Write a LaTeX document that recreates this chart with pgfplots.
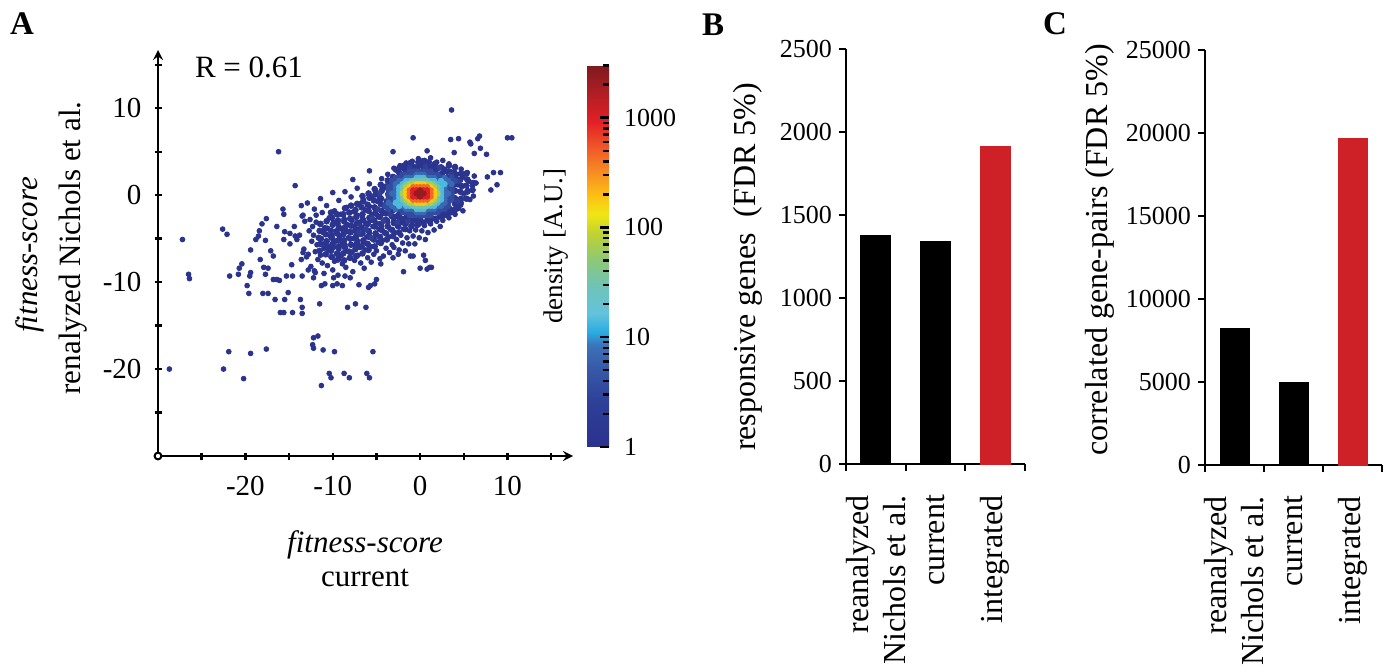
\documentclass[border=0pt]{standalone}
\usepackage{pgfplots}
\pgfplotsset{compat=1.18}
\usepackage{fontspec}
\setmainfont{Liberation Serif}
\usetikzlibrary{arrows.meta}
\definecolor{cRed}{RGB}{205,32,39}

\pgfplotsset{
  dots/.style={scatter, only marks, mark=*, mark size=1.2pt,
    scatter/use mapped color={draw=mapped color, fill=mapped color}},
  core/.style={dots, mark size=1.35pt},
  barpanel/.style={
    scale only axis, anchor=south west,
    xmin=0.5, xmax=3.5, ymin=0,
    axis lines*=left,
    axis line style={line width=1.1pt, -},
    tick style={line width=1.1pt, black},
    tick align=outside,
    major tick length=3.5pt,
    scaled y ticks=false,
    xtick={0.5,1.5,2.5,3.5}, xticklabels={},
    extra x ticks={1,2,3},
    extra x tick labels={{reanalyzed\\Nichols et al.},current,integrated},
    extra x tick style={major tick length=0pt, tick style={draw=none},
      xticklabel style={rotate=90, anchor=east, align=right,
        font=\fontsize{16}{18.5}\selectfont}},
    xticklabel shift=12pt,
    yticklabel style={font=\fontsize{13}{15}\selectfont},
    ybar, bar shift=0pt,
  },
}

\begin{document}
\begin{tikzpicture}
\useasboundingbox (0,0) rectangle (696pt,-334pt);

% ---------------- panel A: scatter with density ----------------
\begin{axis}[
  scale only axis, width=207.5pt, height=203pt,
  at={(79pt,-228pt)}, anchor=south west,
  xmin=-30, xmax=17.5, ymin=-30, ymax=16.7,
  axis lines=left,
  axis line style={line width=1.2pt},
  every inner x axis line/.append style={-{To[length=4pt,width=8pt]}},
  every inner y axis line/.append style={-{To[length=4pt,width=8pt]}},
  xtick={-20,-10,0,10}, xticklabels={-20,-10,0,10},
  ytick={-20,-10,0,10}, yticklabels={-20,-10,0,10},
  minor xtick={-25,-15,-5,5,15}, minor ytick={-25,-15,-5,5,15},
  tick align=center, major tick length=3.5pt, minor tick length=3.5pt,
  tick style={line width=1.2pt, black},
  ticklabel style={font=\fontsize{14.5}{17}\selectfont},
  xticklabel style={yshift=-5pt},
  yticklabel style={xshift=-3pt},
  clip=false,
  colormap={dens}{rgb255(0pt)=(42,49,140); rgb255(42pt)=(46,64,152);
    rgb255(72pt)=(55,90,168); rgb255(93pt)=(60,115,185);
    rgb255(104pt)=(40,170,226); rgb255(122pt)=(100,195,220);
    rgb255(146pt)=(110,195,185); rgb255(170pt)=(140,200,120);
    rgb255(194pt)=(190,210,50); rgb255(212pt)=(240,230,20);
    rgb255(230pt)=(253,190,20); rgb255(251pt)=(246,140,35);
    rgb255(272pt)=(240,90,40); rgb255(296pt)=(228,32,38);
    rgb255(325pt)=(170,30,35); rgb255(348pt)=(125,25,30)},
  point meta min=0, point meta max=3.48,
  colorbar,
  colorbar style={
    at={(parent axis.south east)}, anchor=south west,
    xshift=-1.5pt, yshift=4.5pt, width=11pt, height=191pt,
    ytick={0,1,2,3}, yticklabels={1,10,100,1000},
    minor ytick={0.301,0.477,0.602,0.699,0.778,0.845,0.903,0.954,
      1.301,1.477,1.602,1.699,1.778,1.845,1.903,1.954,
      2.301,2.477,2.602,2.699,2.778,2.845,2.903,2.954,3.301,3.477},
    ytick pos=right, yticklabel pos=right,
    tick align=inside, major tick length=4.5pt, minor tick length=3pt,
    tick style={black, line width=1.2pt},
    axis line style={draw=none},
    yticklabel style={font=\fontsize{13}{15}\selectfont, xshift=4pt},
  },
]
% sparse outliers
\addplot[dots, point meta=0.05] coordinates {
(3.6,9.8) (-0.8,6.6) (10.0,6.6) (10.5,6.6) (6.8,6.8) (6.6,6.5) (5.8,5.9)
(5.7,6.1) (3.5,6.4) (4.4,6.5) (0.8,5.1) (6.9,5.4) (7.6,4.7) (6.2,4.8)
(3.9,4.9) (-3.1,5.0) (-16.2,5.0) (-5.8,2.8) (9.2,2.6) (8.4,2.6) (7.7,2.1)
(8.8,1.2) (8.1,0.6) (6.4,1.4) (6.1,-0.1) (-14.3,1.1) (-7.7,1.8) (4.4,-1.5)
(-27.2,-5.1) (-22.6,-3.9) (-22.1,-4.5) (-26.5,-9.1) (-26.4,-9.6) (-21.8,-9.3)
(-28.7,-20.0) (-22.5,-20.0) (-21.9,-18.0) (-20.2,-21.1) (-19.4,-18.2)
(-17.6,-17.7) (-12.2,-16.4) (-11.7,-16.2) (-12.3,-17.2) (-12.2,-17.6)
(-11.1,-17.8) (-9.8,-18.0) (-5.4,-18.0) (-11.3,-21.9) (-10.4,-20.5)
(-10.2,-21.0) (-8.7,-20.5) (-8.1,-21.0) (-6.1,-20.5) (-5.8,-21.0)
(-16.0,-13.5) (-15.6,-13.5) (-14.6,-13.5) (-13.5,-13.6) (-13.5,-12.9)
(-11.5,-12.5) (-8.3,-12.9) (-7.4,-12.5) (-6.2,-12.9) (-16.6,-12.0)
(-15.5,-12.0) (-15.1,-11.2) (-13.7,-12.0) (-18.0,-11.3) (-17.4,-11.3)
(-19.6,-11.3) (-19.8,-10.4) (-16.8,-9.7) (-16.4,-9.7) (-16.1,-9.8)
(-20.8,-9.1) (-20.7,-8.4) (-20.4,-7.9) (-19.5,-9.3) (-19.4,-8.9)
(-17.9,-8.3) (-17.4,-8.4) (-18.3,-7.4) (-17.7,-9.1) (-19.4,-6.3)
(-17.1,-6.4) (-16.8,-7.0) (-18.8,-5.1) (-18.5,-4.7) (-18.4,-4.1)
(-17.7,-5.2) (-18.1,-3.3) (-17.6,-2.7) (-16.4,-3.6) (-15.7,-1.6)
(-15.6,-2.2) (-15.5,-4.2) (-15.6,-5.1) (-14.9,-4.4) (-14.3,-4.7)
(-14.1,-5.1) (-14.7,-8.0) (-15.3,-9.3) (-14.6,-9.3) (-13.5,-9.3)
(-13.4,-2.3) (-14.4,-3.6) (-14.9,-5.6) (-13.6,-7.4) (-13.4,-6.6)
(-12.8,-8.6) (-12.2,-9.5) (-12.0,-8.9) (-11.3,-10.4) (-10.9,-10.2)
(-10.0,-10.4) (-9.5,-10.2) (-9.9,-9.5) (-8.9,-10.4) (-8.6,-9.3)
(-8.0,-9.5) (-7.0,-10.3) (-5.9,-10.6) (-5.7,-10.4) (-5.0,-9.7)
(-5.2,-10.2) (-1.9,-8.8) (-1.1,-7.0) (-0.8,-7.0) (0.4,-6.9) (0.6,-7.5)
(0.0,-8.4) (0.8,-8.5) (1.1,-8.3) (1.3,-8.3) (-3.1,-7.2) (-4.5,-7.9)
};
% main diagonal cloud
\addplot[dots, point meta=0.05] coordinates {
(-13.6,-1.2) (-13.2,-3.0) (-13.8,-4.6) (-13.3,-6.2) (-13.0,-7.1) (-13.5,-2.4)
(-12.9,-0.9) (-12.6,-2.8) (-12.7,-4.1) (-12.4,-5.3) (-12.8,-6.8) (-12.5,-8.2) (-12.3,-3.6)
(-12.1,-1.6) (-11.9,-3.1) (-12.2,-4.6) (-11.8,-5.7) (-12.0,-6.5) (-11.7,-7.4) (-12.1,-8.7) (-11.9,-2.3)
(-11.4,-0.4) (-11.2,-2.0) (-11.5,-3.3) (-11.1,-4.3) (-11.3,-5.0) (-11.0,-6.1) (-11.4,-6.9) (-11.2,-7.8) (-11.0,-9.0)
(-10.7,-1.2) (-10.4,-2.6) (-10.6,-3.8) (-10.3,-4.7) (-10.8,-5.5) (-10.5,-6.3) (-10.2,-7.1) (-10.6,-8.1) (-10.4,-5.9)
(-10.0,0.3) (-9.8,-1.8) (-9.9,-3.1) (-9.6,-4.1) (-10.1,-4.6) (-9.7,-5.3) (-9.9,-6.0) (-9.5,-6.8) (-9.8,-7.6) (-10.0,-8.6)
(-9.3,-0.6) (-9.1,-2.2) (-9.4,-3.3) (-9.0,-3.9) (-9.2,-4.8) (-8.9,-5.5) (-9.3,-6.2) (-9.1,-7.0) (-8.9,-7.9) (-9.4,-9.2)
(-8.6,0.4) (-8.4,-1.4) (-8.7,-2.7) (-8.3,-3.4) (-8.5,-4.2) (-8.2,-4.9) (-8.6,-5.7) (-8.4,-6.4) (-8.1,-7.2) (-8.5,-8.3)
(-7.9,-0.2) (-7.6,-1.9) (-7.8,-2.9) (-7.5,-3.6) (-7.9,-4.3) (-7.6,-5.0) (-7.4,-5.8) (-7.8,-6.6) (-7.5,-7.5) (-7.7,-8.8) (-7.3,-4.6)
(-7.2,0.8) (-7.0,-1.0) (-7.2,-2.3) (-6.9,-3.1) (-7.1,-3.9) (-6.8,-4.5) (-7.2,-5.2) (-6.9,-6.0) (-7.1,-6.9) (-6.8,-7.8)
(-6.5,-0.5) (-6.3,-1.7) (-6.6,-2.6) (-6.2,-3.3) (-6.4,-4.0) (-6.1,-4.8) (-6.5,-5.5) (-6.3,-6.3) (-6.0,-7.2) (-6.4,-8.4)
(-5.8,1.3) (-5.6,-0.2) (-5.8,-1.3) (-5.5,-2.2) (-5.7,-2.9) (-5.4,-3.6) (-5.8,-4.3) (-5.5,-5.0) (-5.7,-5.9) (-5.3,-6.8) (-5.6,-7.7)
(-5.1,0.5) (-4.9,-0.7) (-5.1,-1.8) (-4.8,-2.5) (-5.0,-3.2) (-4.7,-3.9) (-5.1,-4.6) (-4.8,-5.4) (-5.0,-6.4) (-4.6,-7.3)
(-4.4,1.9) (-4.2,0.8) (-4.4,-0.4) (-4.1,-1.3) (-4.3,-2.1) (-4.0,-2.8) (-4.4,-3.5) (-4.1,-4.3) (-4.3,-5.2) (-3.9,-6.1) (-4.2,-7.0)
(-3.7,2.4) (-3.5,1.2) (-3.7,0.1) (-3.4,-0.9) (-3.6,-1.7) (-3.3,-2.4) (-3.7,-3.1) (-3.4,-3.9) (-3.6,-4.8) (-3.2,-5.7) (-3.5,-6.6)
(-3.0,3.1) (-2.8,2.9) (-2.7,-2.4) (-3.0,-2.9) (-2.6,-3.5) (-2.9,-4.3) (-2.7,-5.1) (-3.0,-6.0) (-2.5,-6.8)
(-2.3,3.4) (-2.1,3.2) (-2.0,-2.7) (-2.3,-3.2) (-1.9,-3.9) (-2.2,-4.6) (-2.0,-5.5) (-2.4,-6.3)
(-1.6,3.7) (-1.4,3.3) (-1.3,-2.8) (-1.6,-3.3) (-1.2,-4.1) (-1.5,-4.9) (-1.3,-5.6) (-1.7,-6.4)
(-0.9,3.9) (-0.7,3.3) (-0.6,-2.9) (-0.9,-3.4) (-0.5,-4.0) (-0.8,-4.7) (-0.6,-5.6)
(-0.2,4.2) (0.0,3.5) (0.1,-2.9) (-0.2,-3.4) (0.2,-4.1) (-0.1,-4.9)
(0.5,4.0) (0.7,3.4) (0.8,-2.8) (0.5,-3.5) (0.9,-4.3) (0.6,-5.1)
(1.2,4.3) (1.4,3.3) (1.5,-2.7) (1.2,-3.3) (1.6,-4.0)
(1.9,3.8) (2.1,3.1) (2.2,-2.5) (1.9,-3.0) (2.3,-3.6)
(2.6,4.0) (2.8,3.0) (2.9,-2.3) (2.6,-2.9)
(3.3,3.6) (3.5,2.7) (3.6,-2.0) (3.3,-2.6)
(4.0,3.3) (4.2,2.4) (4.3,1.2) (4.1,-0.4) (4.2,-1.6) (4.0,-2.2)
(4.7,3.0) (4.9,2.1) (4.8,1.0) (5.0,0.2) (4.7,-0.9) (4.9,-1.8)
(5.4,2.6) (5.6,1.6) (5.5,0.5) (5.7,-0.5)
(6.2,2.2) (6.0,1.1)
};
% densest part of the band
\addplot[dots, mark size=1.45pt, point meta=0.1] coordinates {
(-11.5,-6.4) (-11.4,-5.6) (-11.6,-4.9) (-11.5,-4.1) (-11.4,-3.3)
(-10.8,-6.8) (-10.9,-6.0) (-10.7,-5.3) (-10.8,-4.5) (-10.9,-3.8) (-10.7,-3.0)
(-10.1,-7.1) (-10.2,-6.4) (-10.0,-5.6) (-10.1,-4.9) (-10.2,-4.1) (-10.0,-3.4) (-10.1,-2.6) (-10.2,-2.0)
(-9.4,-7.4) (-9.5,-6.7) (-9.3,-5.9) (-9.4,-5.2) (-9.5,-4.4) (-9.3,-3.7) (-9.4,-2.9) (-9.5,-2.2)
(-8.7,-7.5) (-8.8,-6.7) (-8.6,-6.0) (-8.7,-5.2) (-8.8,-4.5) (-8.6,-3.7) (-8.7,-3.0) (-8.8,-2.2) (-8.6,-1.5)
(-8.0,-7.2) (-8.1,-6.5) (-7.9,-5.7) (-8.0,-5.0) (-8.1,-4.2) (-7.9,-3.5) (-8.0,-2.7) (-8.1,-2.0) (-7.9,-1.2)
(-7.3,-7.0) (-7.4,-6.2) (-7.2,-5.5) (-7.3,-4.7) (-7.4,-4.0) (-7.2,-3.2) (-7.3,-2.5) (-7.4,-1.7) (-7.2,-1.0)
(-6.6,-6.7) (-6.7,-5.9) (-6.5,-5.2) (-6.6,-4.4) (-6.7,-3.7) (-6.5,-2.9) (-6.6,-2.2) (-6.7,-1.4) (-6.5,-0.7) (-6.6,-0.1)
(-5.9,-6.3) (-6.0,-5.6) (-5.8,-4.8) (-5.9,-4.1) (-6.0,-3.3) (-5.8,-2.6) (-5.9,-1.8) (-6.0,-1.1) (-5.8,-0.3) (-5.9,0.2)
(-5.2,-5.9) (-5.3,-5.1) (-5.1,-4.4) (-5.2,-3.6) (-5.3,-2.9) (-5.1,-2.1) (-5.2,-1.4) (-5.3,-0.6) (-5.1,0.1) (-5.2,0.7)
(-4.5,-5.5) (-4.6,-4.8) (-4.4,-4.0) (-4.5,-3.3) (-4.6,-2.5) (-4.4,-1.8) (-4.5,-1.0) (-4.6,-0.3) (-4.4,0.5) (-4.5,1.2)
(-3.8,-5.1) (-3.9,-4.4) (-3.7,-3.6) (-3.8,-2.9) (-3.9,-2.1) (-3.7,-1.4) (-3.8,-0.7) (-3.9,1.0) (-3.7,1.7)
(-3.1,-4.7) (-3.2,-4.0) (-3.0,-3.2) (-3.1,-2.5) (-3.2,-1.8) (-3.1,2.1)
(-2.4,-4.3) (-2.5,-3.6) (-2.3,-2.8) (-2.4,-2.2) (-2.4,2.6) (-2.5,3.0)
(-1.7,-3.9) (-1.8,-3.2) (-1.6,-2.6) (-1.7,2.9) (-1.8,3.4)
(-1.0,-3.6) (-1.1,-2.9) (-1.0,3.1) (-1.1,3.7)
(-0.3,-3.4) (-0.4,-2.8) (-0.3,3.2) (-0.2,3.8)
(0.4,-3.2) (0.4,3.2) (0.3,3.9)
(1.1,-3.0) (1.1,3.1) (1.0,3.8)
(1.8,-2.7) (1.8,2.9) (1.7,3.6)
(2.5,-2.4) (2.6,-1.9) (2.5,2.5) (2.4,3.2)
(3.2,-2.1) (3.3,-1.5) (3.2,2.0) (3.1,2.7) (3.3,3.4)
(3.9,-1.7) (4.0,-1.0) (3.9,-0.3) (4.0,0.5) (3.9,1.2) (4.0,1.9) (3.9,2.6) (4.0,3.2)
(4.6,-1.1) (4.7,-0.4) (4.6,0.4) (4.7,1.1) (4.6,1.8) (4.7,2.5)
(5.3,-0.4) (5.4,0.4) (5.3,1.1) (5.4,1.8) (5.3,2.5)
(6.0,0.6) (6.1,1.4)
};
% a few slightly denser points scattered near the core
\addplot[dots, point meta=0.4] coordinates {
(-4.8,-1.6) (-5.5,-2.6) (-4.2,-3.0) (-6.2,-3.9) (-3.4,-2.2) (-4.6,0.2)
(-2.6,-3.1) (-1.4,-3.0) (2.2,3.2) (3.6,2.4) (4.4,1.6) (4.3,-0.7)
(-7.0,-4.3) (-5.6,-4.9) (0.6,3.3) (-1.2,3.2)
};
% dense core, one layer per density level
\addplot[core, point meta=0.55] coordinates {
(-3.6,0.2) (3.6,0.2)
(-3.6,0.56) (-3.2,0.56) (3.2,0.56) (3.6,0.56)
(-3.6,-0.16) (-3.2,-0.16) (3.2,-0.16) (3.6,-0.16)
(-3.6,0.92) (-3.2,0.92) (3.2,0.92) (3.6,0.92)
(-3.6,-0.52) (-3.2,-0.52) (3.2,-0.52) (3.6,-0.52)
(-3.2,1.28) (3.2,1.28) (3.6,1.28)
(-3.6,-0.88) (-3.2,-0.88) (3.2,-0.88)
(-3.2,1.64) (-2.8,1.64) (2.8,1.64) (3.2,1.64)
(-3.2,-1.24) (-2.8,-1.24) (2.8,-1.24) (3.2,-1.24)
(-2.8,2.0) (-2.4,2.0) (-2.0,2.0) (2.0,2.0) (2.4,2.0) (2.8,2.0)
(-2.8,-1.6) (-2.4,-1.6) (-2.0,-1.6) (2.0,-1.6) (2.4,-1.6) (2.8,-1.6)
(-2.0,2.36) (-1.6,2.36) (-1.2,2.36) (-0.8,2.36) (0.8,2.36) (1.2,2.36) (1.6,2.36) (2.0,2.36)
(-2.0,-1.96) (-1.6,-1.96) (-1.2,-1.96) (-0.8,-1.96) (0.8,-1.96) (1.2,-1.96) (1.6,-1.96) (2.0,-1.96)
(-1.2,2.72) (-0.8,2.72) (-0.4,2.72) (0,2.72) (0.4,2.72) (0.8,2.72) (1.2,2.72)
(-1.2,-2.32) (-0.8,-2.32) (-0.4,-2.32) (0,-2.32) (0.4,-2.32) (0.8,-2.32) (1.2,-2.32)
(4.0,1.64) (3.6,2.0) (-4.0,-1.24) (-3.6,-1.6)
};
\addplot[core, point meta=0.85] coordinates {
(-3.2,0.2) (-2.8,0.2) (2.8,0.2) (3.2,0.2)
(-2.8,0.56) (2.8,0.56) (-2.8,-0.16) (2.8,-0.16)
(-2.8,0.92) (2.8,0.92) (-2.8,-0.52) (2.8,-0.52)
(-2.8,1.28) (-2.4,1.28) (2.4,1.28) (2.8,1.28)
(-2.8,-0.88) (-2.4,-0.88) (2.4,-0.88) (2.8,-0.88)
(-2.4,1.64) (-2.0,1.64) (2.0,1.64) (2.4,1.64)
(-2.4,-1.24) (-2.0,-1.24) (2.0,-1.24) (2.4,-1.24)
(-1.6,2.0) (-1.2,2.0) (-0.8,2.0) (0.8,2.0) (1.2,2.0) (1.6,2.0)
(-1.6,-1.6) (-1.2,-1.6) (-0.8,-1.6) (0.8,-1.6) (1.2,-1.6) (1.6,-1.6)
(-0.4,2.36) (0,2.36) (0.4,2.36) (-0.4,-1.96) (0,-1.96) (0.4,-1.96)
(3.2,1.64) (3.6,1.28) (2.8,2.0) (-3.2,-1.24) (-3.6,-0.88) (-2.8,-1.6)
};
\addplot[core, point meta=1.15] coordinates {
(-2.4,0.2) (2.4,0.2) (-2.4,0.56) (2.4,0.56) (-2.4,-0.16) (2.4,-0.16)
(-2.4,0.92) (2.4,0.92) (-2.4,-0.52) (2.4,-0.52)
(-2.0,1.28) (2.0,1.28) (-2.0,-0.88) (2.0,-0.88)
(-1.6,1.64) (-1.2,1.64) (1.2,1.64) (1.6,1.64)
(-1.6,-1.24) (-1.2,-1.24) (1.2,-1.24) (1.6,-1.24)
(-0.4,2.0) (0,2.0) (0.4,2.0) (-0.4,-1.6) (0,-1.6) (0.4,-1.6)
(2.8,1.28) (2.4,1.64) (-2.8,-0.88) (-2.4,-1.24)
};
\addplot[core, point meta=1.5] coordinates {
(-2.0,0.56) (2.0,0.56) (-2.0,-0.16) (2.0,-0.16)
(-2.0,0.92) (2.0,0.92) (-2.0,-0.52) (2.0,-0.52)
(-1.6,1.28) (1.6,1.28) (-1.6,-0.88) (1.6,-0.88)
(-0.8,1.64) (-0.4,1.64) (0,1.64) (0.4,1.64) (0.8,1.64)
(-0.8,-1.24) (-0.4,-1.24) (0,-1.24) (0.4,-1.24) (0.8,-1.24)
};
\addplot[core, point meta=1.85] coordinates {
(-2.0,0.2) (2.0,0.2)
(-1.6,0.92) (1.6,0.92) (-1.6,-0.52) (1.6,-0.52)
(-1.2,1.28) (-0.8,1.28) (0.8,1.28) (1.2,1.28)
(-1.2,-0.88) (-0.8,-0.88) (0.8,-0.88) (1.2,-0.88)
};
\addplot[core, point meta=2.25] coordinates {
(-1.6,0.2) (1.6,0.2) (-1.6,0.56) (1.6,0.56) (-1.6,-0.16) (1.6,-0.16)
(-1.2,0.92) (1.2,0.92) (-1.2,-0.52) (1.2,-0.52)
(-0.4,1.28) (0,1.28) (0.4,1.28) (-0.4,-0.88) (0,-0.88) (0.4,-0.88)
};
\addplot[core, point meta=2.65] coordinates {
(-1.2,0.2) (1.2,0.2) (-1.2,0.56) (1.2,0.56) (-1.2,-0.16) (1.2,-0.16)
(-0.8,0.92) (-0.4,0.92) (0,0.92) (0.4,0.92) (0.8,0.92)
(-0.8,-0.52) (-0.4,-0.52) (0,-0.52) (0.4,-0.52) (0.8,-0.52)
};
\addplot[core, point meta=3.0] coordinates {
(-0.8,0.2) (0.8,0.2)
(-0.8,0.56) (-0.4,0.56) (0.4,0.56) (0.8,0.56)
(-0.8,-0.16) (-0.4,-0.16) (0.4,-0.16) (0.8,-0.16)
};
\addplot[core, point meta=3.35] coordinates {
(-0.4,0.2) (0,0.2) (0.4,0.2) (0,0.56) (0,-0.16)
};
\draw[line width=1pt, fill=white] (axis cs:-30,-30) circle[radius=1.7pt];
\end{axis}

\node[font=\fontsize{16.5}{18}\selectfont\bfseries] at (11pt,-12pt) {A};
\node[anchor=west, font=\fontsize{15.5}{18}\selectfont] at (94pt,-33.5pt) {R = 0.61};
\node[rotate=90, font=\fontsize{13.5}{15}\selectfont] at (278pt,-123pt) {density [A.U.]};
\node[font=\fontsize{15.5}{18}\selectfont\itshape] at (182.5pt,-272.5pt) {fitness-score};
\node[font=\fontsize{15.5}{18}\selectfont] at (182.5pt,-289pt) {current};
\node[rotate=90, font=\fontsize{15.5}{18}\selectfont\itshape] at (15pt,-127.5pt) {fitness-score};
\node[rotate=90, font=\fontsize{15.5}{18}\selectfont] at (36.5pt,-124pt) {renalyzed Nichols et al.};

% ---------------- panel B ----------------
\begin{axis}[barpanel, width=89.5pt, height=207.5pt, at={(423pt,-232pt)},
  ymax=2500, ytick={0,500,1000,1500,2000,2500},
  yticklabels={0,500,1000,1500,2000,2500}]
\addplot[fill=black, draw=black, bar width=15pt] coordinates {(1,1378) (2,1340)};
\addplot[fill=cRed, draw=cRed, bar width=15pt] coordinates {(3,1915)};
\end{axis}
\node[font=\fontsize{16.5}{18}\selectfont\bfseries] at (356.5pt,-12.25pt) {B};
\node[rotate=90, font=\fontsize{16}{18}\selectfont] at (374pt,-133.5pt)
  {responsive genes\enspace(FDR 5\%)};

% ---------------- panel C ----------------
\begin{axis}[barpanel, width=88.5pt, height=207.5pt, at={(602.5pt,-232.5pt)},
  ymax=25000, ytick={0,5000,10000,15000,20000,25000},
  yticklabels={0,5000,10000,15000,20000,25000}]
\addplot[fill=black, draw=black, bar width=14.5pt] coordinates {(1,8250) (2,4980)};
\addplot[fill=cRed, draw=cRed, bar width=14.5pt] coordinates {(3,19650)};
\end{axis}
\node[font=\fontsize{16.5}{18}\selectfont\bfseries] at (527.5pt,-11.75pt) {C};
\node[rotate=90, font=\fontsize{16}{18}\selectfont] at (550pt,-125pt)
  {correlated gene-pairs (FDR 5\%)};

\end{tikzpicture}
\end{document}
